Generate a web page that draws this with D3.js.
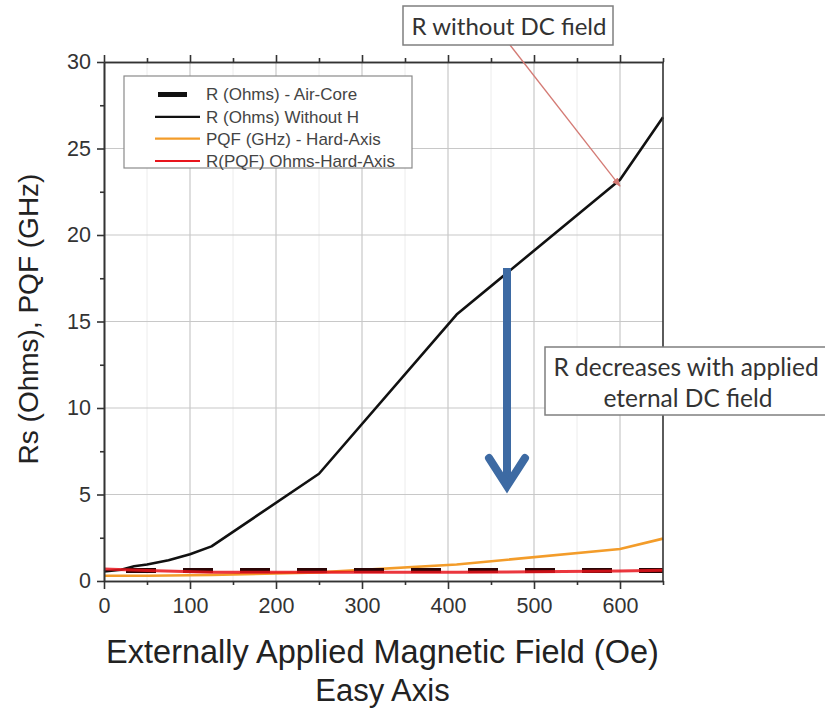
<!DOCTYPE html>
<html>
<head>
<meta charset="utf-8">
<script src="https://cdn.jsdelivr.net/npm/d3@7"></script>
<style>
  html, body { margin: 0; padding: 0; background: #fff; }
  svg { display: block; }
</style>
</head>
<body>
<svg id="chart" width="825" height="708"></svg>
<script>
// Field values (Oe) and measured series
const xTicks = [0, 100, 200, 300, 400, 500, 600];
const xMinorTicks = [50, 150, 250, 350, 450, 550, 650];
const yTicks = [0, 5, 10, 15, 20, 25, 30];
const yMinorTicks = [2.5, 7.5, 12.5, 17.5, 22.5, 27.5];

const airCoreField = [0, 125, 250, 410, 600, 650];
const airCoreR = [0.6, 0.6, 0.6, 0.6, 0.6, 0.6];

const withoutHField = [0, 20, 35, 50, 75, 100, 125, 250, 410, 600, 650];
const withoutHR = [0.55, 0.65, 0.85, 0.95, 1.2, 1.55, 2.0, 6.2, 15.4, 23.2, 26.8];

const pqfField = [0, 50, 125, 250, 410, 600, 650];
const pqfGHz = [0.3, 0.3, 0.35, 0.5, 0.95, 1.85, 2.45];

const rpqfField = [0, 50, 125, 250, 410, 600, 650];
const rpqfR = [0.7, 0.6, 0.5, 0.5, 0.5, 0.58, 0.62];

const legendLabels = [
  "R (Ohms) - Air-Core",
  "R (Ohms) Without H",
  "PQF (GHz) - Hard-Axis",
  "R(PQF) Ohms-Hard-Axis"
];

const svg = d3.select("#chart");
const plotLeft = 104, plotRight = 663, plotTop = 62, plotBottom = 581;

const x = d3.scaleLinear().domain([0, 650]).range([plotLeft, plotRight]);
const y = d3.scaleLinear().domain([0, 30]).range([plotBottom, plotTop]);

const FONT = "'Liberation Sans', Arial, sans-serif";
const NOTE_FONT = "Lato, 'Open Sans', sans-serif";

// grid
const grid = svg.append("g");
grid.selectAll("line.vminor").data(xMinorTicks.filter(d => d < 650)).join("line")
  .attr("class", "vminor")
  .attr("x1", d => x(d)).attr("x2", d => x(d)).attr("y1", plotTop).attr("y2", plotBottom)
  .attr("stroke", "#ececec").attr("stroke-width", 1);
grid.selectAll("line.vmajor").data(xTicks.filter(d => d > 0)).join("line")
  .attr("class", "vmajor")
  .attr("x1", d => x(d)).attr("x2", d => x(d)).attr("y1", plotTop).attr("y2", plotBottom)
  .attr("stroke", "#c8c8c8").attr("stroke-width", 1.2);
grid.selectAll("line.hmajor").data(yTicks.filter(d => d > 0 && d < 30)).join("line")
  .attr("class", "hmajor")
  .attr("x1", plotLeft).attr("x2", plotRight).attr("y1", d => y(d)).attr("y2", d => y(d))
  .attr("stroke", "#c8c8c8").attr("stroke-width", 1.2);

// series
const line = d3.line().x(d => x(d[0])).y(d => y(d[1]));
const zip = (a, b) => a.map((v, i) => [v, b[i]]);

svg.append("path").datum(zip(withoutHField, withoutHR))
  .attr("d", line).attr("fill", "none").attr("stroke", "#111").attr("stroke-width", 2.6)
  .attr("stroke-linejoin", "round");
svg.append("path").datum(zip(pqfField, pqfGHz))
  .attr("d", line).attr("fill", "none").attr("stroke", "#f39c2a").attr("stroke-width", 2.6);
svg.append("path").datum(zip(airCoreField, airCoreR))
  .attr("d", line).attr("fill", "none").attr("stroke", "#2a0505").attr("stroke-width", 5)
  .attr("stroke-dasharray", "30,27").attr("stroke-dashoffset", -22);
svg.append("path").datum(zip(rpqfField, rpqfR))
  .attr("d", line).attr("fill", "none").attr("stroke", "#e8141c").attr("stroke-width", 3)
  .attr("opacity", 0.85);

// axes
function styleAxis(g) {
  g.select(".domain").attr("stroke", "#333").attr("stroke-width", 1.6);
  g.selectAll(".tick line").attr("stroke", "#333").attr("stroke-width", 1.6);
}
function styleLabels(g) {
  g.selectAll(".tick text").attr("font-size", 21.5).attr("font-family", FONT).attr("fill", "#333");
}
svg.append("g").attr("transform", `translate(0,${plotBottom})`)
  .call(d3.axisBottom(x).tickValues(xMinorTicks).tickSize(4).tickFormat("").tickSizeOuter(0))
  .call(styleAxis);
svg.append("g").attr("transform", `translate(0,${plotBottom})`)
  .call(d3.axisBottom(x).tickValues(xTicks).tickSize(8).tickPadding(9).tickSizeOuter(0))
  .call(styleAxis).call(styleLabels);
svg.append("g").attr("transform", `translate(0,${plotTop})`)
  .call(d3.axisTop(x).tickValues(xMinorTicks).tickSize(4).tickFormat("").tickSizeOuter(0))
  .call(styleAxis);
svg.append("g").attr("transform", `translate(0,${plotTop})`)
  .call(d3.axisTop(x).tickValues(xTicks).tickSize(7).tickFormat("").tickSizeOuter(0))
  .call(styleAxis);
svg.append("g").attr("transform", `translate(${plotLeft},0)`)
  .call(d3.axisLeft(y).tickValues(yMinorTicks).tickSize(4).tickFormat("").tickSizeOuter(0))
  .call(styleAxis);
svg.append("g").attr("transform", `translate(${plotLeft},0)`)
  .call(d3.axisLeft(y).tickValues(yTicks).tickSize(7).tickPadding(6).tickSizeOuter(0))
  .call(styleAxis).call(styleLabels);
svg.append("line").attr("x1", plotRight).attr("x2", plotRight).attr("y1", plotTop).attr("y2", plotBottom)
  .attr("stroke", "#333").attr("stroke-width", 1.6);

// axis titles
svg.append("text").attr("x", (plotLeft + plotRight) / 2 - 1).attr("y", 663)
  .attr("text-anchor", "middle").attr("font-family", FONT).attr("font-size", 32.5)
  .attr("fill", "#222").text("Externally Applied Magnetic Field (Oe)");
svg.append("text").attr("x", (plotLeft + plotRight) / 2 - 1).attr("y", 701)
  .attr("text-anchor", "middle").attr("font-family", FONT).attr("font-size", 31)
  .attr("fill", "#222").text("Easy Axis");
svg.append("text").attr("transform", "translate(38,319) rotate(-90)")
  .attr("text-anchor", "middle").attr("font-family", FONT).attr("font-size", 28)
  .attr("fill", "#222").text("Rs (Ohms), PQF (GHz)");

// legend
const lg = svg.append("g");
lg.append("rect").attr("x", 124).attr("y", 76).attr("width", 288).attr("height", 92)
  .attr("fill", "#fff").attr("stroke", "#8a8a8a").attr("stroke-width", 1.2);
const rowY = [94.5, 116.8, 138.6, 161];
const samples = [
  { x1: 158, x2: 187, color: "#111", w: 5 },
  { x1: 155, x2: 200, color: "#111", w: 2.2 },
  { x1: 155, x2: 200, color: "#f39c2a", w: 2.2 },
  { x1: 155, x2: 200, color: "#e8141c", w: 2.2 }
];
legendLabels.forEach((label, i) => {
  lg.append("line").attr("x1", samples[i].x1).attr("x2", samples[i].x2)
    .attr("y1", rowY[i]).attr("y2", rowY[i])
    .attr("stroke", samples[i].color).attr("stroke-width", samples[i].w);
  lg.append("text").attr("x", 206).attr("y", rowY[i]).attr("dy", "0.35em")
    .attr("font-family", FONT).attr("font-size", 17).attr("fill", "#444").text(label);
});

// callout: R without DC field
svg.append("defs").append("marker").attr("id", "thinHead")
  .attr("viewBox", "0 0 10 10").attr("refX", 9).attr("refY", 5)
  .attr("markerWidth", 7).attr("markerHeight", 7).attr("orient", "auto")
  .append("path").attr("d", "M0,1 L10,5 L0,9 z").attr("fill", "#d47a74");
svg.append("line").attr("x1", 510).attr("y1", 45).attr("x2", x(600)).attr("y2", y(23.0) + 3)
  .attr("stroke", "#d47a74").attr("stroke-width", 1.3).attr("marker-end", "url(#thinHead)");
svg.append("rect").attr("x", 403).attr("y", 6).attr("width", 210).attr("height", 39)
  .attr("fill", "#fff").attr("stroke", "#7f7f7f").attr("stroke-width", 1.5);
svg.append("text").attr("x", 509).attr("y", 35).attr("text-anchor", "middle")
  .attr("font-family", NOTE_FONT).attr("font-size", 24).attr("fill", "#333")
  .text("R without DC field");

// callout: R decreases
svg.append("rect").attr("x", 545).attr("y", 347).attr("width", 300).attr("height", 68)
  .attr("fill", "#fff").attr("stroke", "#7f7f7f").attr("stroke-width", 1.5);
svg.append("text").attr("x", 686).attr("y", 376).attr("text-anchor", "middle")
  .attr("font-family", NOTE_FONT).attr("font-size", 24.5).attr("fill", "#333")
  .text("R decreases with applied");
svg.append("text").attr("x", 688).attr("y", 407).attr("text-anchor", "middle")
  .attr("font-family", NOTE_FONT).attr("font-size", 24.5).attr("fill", "#333")
  .text("eternal DC field");

// blue downward arrow
const ax = 507;
svg.append("line").attr("x1", ax).attr("x2", ax).attr("y1", 268).attr("y2", 484)
  .attr("stroke", "#3d6aa3").attr("stroke-width", 8);
svg.append("path").attr("d", `M${ax - 18},${458} L${ax},${486} L${ax + 18},${458}`)
  .attr("fill", "none").attr("stroke", "#3d6aa3").attr("stroke-width", 8)
  .attr("stroke-linecap", "round").attr("stroke-linejoin", "miter");
</script>
</body>
</html>
